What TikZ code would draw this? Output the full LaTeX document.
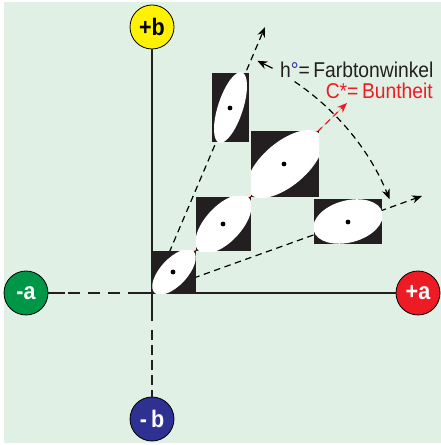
\documentclass[tikz,border=0pt]{standalone}
\usepackage{fontspec}
\setmainfont{Liberation Sans}[FakeStretch=0.9]
\usepackage{tikz}
\usetikzlibrary{arrows.meta,positioning,calc}
\definecolor{bggreen}{RGB}{225,240,229}
\definecolor{labyellow}{RGB}{255,242,0}
\definecolor{labgreen}{RGB}{0,150,72}
\definecolor{labred}{RGB}{237,28,36}
\definecolor{labblue}{RGB}{46,49,146}
\definecolor{inkgray}{RGB}{35,31,32}
\tikzset{
  axisdot/.style={circle, draw=black, thick, minimum size=44bp, inner sep=0pt,
                  font=\bfseries\fontsize{24}{24}\selectfont},
  patch/.style={rectangle, fill=inkgray, inner sep=0pt},
  axisline/.style={line width=1.1bp, draw=inkgray},
  rayline/.style={line width=1.2bp, draw=black, dash pattern=on 6.5bp off 4.5bp,
                  -{Stealth[length=10bp,width=8bp]}},
  hueline/.style={rayline},
  chromaline/.style={rayline, draw=labred, fill=labred},
  labeltext/.style={inner sep=0pt, font=\fontsize{21.5}{21.5}\selectfont},
}
% ellipse in a black patch, clipped to the patch
\newcommand{\ellpatch}[5]{%
  \begin{scope}
    \clip (#1.south west) rectangle (#1.north east);
    \fill[white, rotate around={#4:(#1.center)}] (#1.center) ellipse ({#2bp} and {#3bp});
  \end{scope}
  \fill (#5) circle (2.4bp);
}
\begin{document}
\begin{tikzpicture}[x=1bp, y=1bp]
  \useasboundingbox (0,0) rectangle (441,445);
  \fill[bggreen] (4,2) rectangle (441,443);

  \coordinate (O) at (152,152);
  \node[axisdot, fill=labyellow, text=black] (pb) at (152,418) {+b};
  \node[axisdot, fill=labblue, text=white]   (mb) at (152,26)  {-\,b};
  \node[axisdot, fill=labgreen, text=white]  (ma) at (26,152)  {-a};
  \node[axisdot, fill=labred, text=white]    (pa) at (418,152) {+a};

  % axes
  \draw[axisline] (pb) -- (O);
  \draw[axisline] (O) -- (pa);
  \draw[axisline, dash pattern=on 24bp off 8bp on 12bp off 8bp on 12bp off 8bp on 12bp off 3bp on 30bp] (O) -- (ma);
  \draw[axisline, dash pattern=on 28bp off 9bp on 10bp off 5bp on 10bp off 5bp on 10bp off 5bp on 10bp off 5bp on 30bp] (O) -- (mb);

  % rays
  \coordinate (tipb) at (265,418);
  \coordinate (tipa) at (422,249);
  \coordinate (tipc) at (347,342);
  \draw[rayline] (O) -- (tipb);
  \draw[rayline] (O) -- (tipa);
  \draw[chromaline] (O) -- (tipc);

  % hue angle
  \draw[hueline] ($(O)+(56:255)$) arc[start angle=56, end angle=21.8, radius=257];
  \draw[hueline, dash pattern=] ($(O)+(61.8:255)$) -- ($(O)+(65.6:255)$);

  % patches
  \node[patch, minimum width=44bp, minimum height=42bp] (p1) at (174,173) {};
  \node[patch, minimum width=55bp, minimum height=54bp] (p2) at (223.5,221) {};
  \node[patch, minimum width=68bp, minimum height=66bp] (p3) at (285,281) {};
  \node[patch, minimum width=37bp, minimum height=69bp] (p4) at (230.5,337.5) {};
  \node[patch, minimum width=68bp, minimum height=45bp] (p5) at (348,223.5) {};
  \ellpatch{p1}{28.5}{13.5}{47}{173,173}
  \ellpatch{p2}{36.5}{18}{47}{223,221}
  \ellpatch{p3}{46}{22}{40}{284,281}
  \ellpatch{p4}{37}{12.5}{72}{230,337}
  \ellpatch{p5}{35.5}{21}{15}{348,223}

  % labels
  \node[labeltext, anchor=base west, text=inkgray] (hue) at (280,367)
    {h\textcolor{labblue}{°}=\,Farbtonwinkel};
  \node[labeltext, anchor=base east, text=labred] (chroma) at (433,346)
    {C*=\,Buntheit};
\end{tikzpicture}
\end{document}
